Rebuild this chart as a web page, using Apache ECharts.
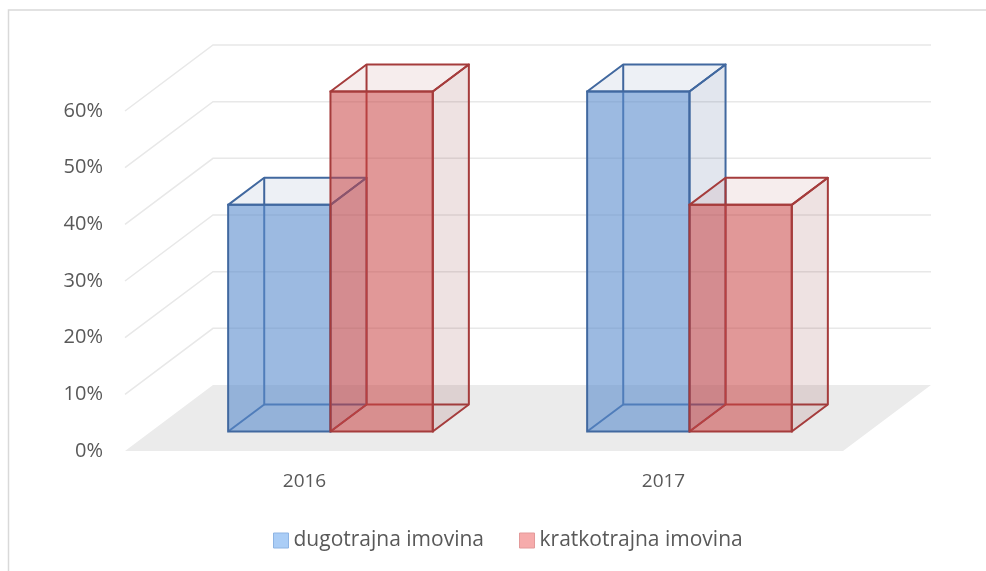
<!DOCTYPE html>
<html>
<head>
<meta charset="utf-8">
<script src="https://cdn.jsdelivr.net/npm/echarts@6/dist/echarts.min.js"></script>
<style>
  html, body { margin: 0; padding: 0; background: #fff; }
  #chart { width: 986px; height: 571px; }
</style>
</head>
<body>
<div id="chart"></div>
<script>
// data
var years = ['2016', '2017'];
var longTerm = [0.40, 0.60];   // dugotrajna imovina
var shortTerm = [0.60, 0.40];  // kratkotrajna imovina
var yTicks = [0, 0.1, 0.2, 0.3, 0.4, 0.5, 0.6];

// fake 3d: oblique depth vector of the whole floor, bars sit in the middle of it
var DEPTH_X = 88;
var DEPTH_Y = -66;
var FRONT = 0.295;
var BACK = 0.705;
var BAR_RATIO = 0.285;

function renderWalls(params, api) {
    var cs = params.coordSys;
    var v = api.value(1);
    var y = api.coord([0, v])[1];
    var left = cs.x, right = cs.x + cs.width;
    if (v === 0) {
        return {
            type: 'polygon',
            shape: { points: [[left, y], [right, y], [right + DEPTH_X, y + DEPTH_Y], [left + DEPTH_X, y + DEPTH_Y]] },
            style: { fill: '#ebebeb' }
        };
    }
    return {
        type: 'polyline',
        shape: { points: [[left, y], [left + DEPTH_X, y + DEPTH_Y], [right + DEPTH_X, y + DEPTH_Y]] },
        style: { stroke: '#e8e8e8', lineWidth: 1.5, fill: null }
    };
}

function makeBox(side, edge, frontFill, topFill, sideFill) {
    return function (params, api) {
        var base = api.coord([api.value(0), 0]);
        var peak = api.coord([api.value(0), api.value(1)]);
        var band = api.size([1, 0])[0];
        var w = band * BAR_RATIO;
        var x0 = side === 0 ? base[0] - w : base[0];
        var fx = DEPTH_X * FRONT, fy = DEPTH_Y * FRONT;
        var dx = DEPTH_X * (BACK - FRONT), dy = DEPTH_Y * (BACK - FRONT);
        var L = x0 + fx, R = x0 + w + fx, T = peak[1] + fy, B = base[1] + fy;
        var lineStyle = { stroke: edge, lineWidth: 2, fill: null, lineJoin: 'round' };
        return {
            type: 'group',
            children: [
                // edges at the back, seen through the box
                { type: 'polyline', shape: { points: [[L + dx, T + dy], [L + dx, B + dy], [R + dx, B + dy]] }, style: lineStyle },
                { type: 'line', shape: { x1: L, y1: B, x2: L + dx, y2: B + dy }, style: lineStyle },
                // right side
                { type: 'polygon', shape: { points: [[R, T], [R + dx, T + dy], [R + dx, B + dy], [R, B]] },
                  style: { fill: sideFill, stroke: edge, lineWidth: 2, lineJoin: 'round' } },
                // top
                { type: 'polygon', shape: { points: [[L, T], [R, T], [R + dx, T + dy], [L + dx, T + dy]] },
                  style: { fill: topFill, stroke: edge, lineWidth: 2, lineJoin: 'round' } },
                // front
                { type: 'rect', shape: { x: L, y: T, width: w, height: B - T },
                  style: { fill: frontFill, stroke: edge, lineWidth: 2 } }
            ]
        };
    };
}

var chart = echarts.init(document.getElementById('chart'));
chart.setOption({
    animation: false,
    textStyle: { fontFamily: 'Open Sans' },
    graphic: [{
        type: 'rect',
        shape: { x: 8.5, y: 10, width: 1000, height: 600 },
        style: { fill: null, stroke: '#d9d9d9', lineWidth: 1.5 },
        silent: true
    }],
    legend: {
        left: 268,
        top: 525,
        icon: 'rect',
        itemWidth: 15,
        itemHeight: 15,
        itemGap: 35,
        textStyle: { color: '#595959', fontSize: 21, fontFamily: 'Open Sans' },
        data: [
            { name: 'dugotrajna imovina', itemStyle: { color: '#aacdf6', borderColor: '#8eb4e3', borderWidth: 1 } },
            { name: 'kratkotrajna imovina', itemStyle: { color: '#f6abab', borderColor: '#e39a9a', borderWidth: 1 } }
        ]
    },
    grid: { left: 125, right: 143, top: 111, bottom: 120 },
    xAxis: {
        type: 'category',
        data: years,
        axisLine: { show: false },
        axisTick: { show: false },
        axisLabel: { color: '#595959', fontSize: 19, margin: 21 }
    },
    yAxis: {
        type: 'value',
        min: 0,
        max: 0.6,
        interval: 0.1,
        axisLine: { show: false },
        axisTick: { show: false },
        splitLine: { show: false },
        axisLabel: {
            color: '#595959',
            fontSize: 20,
            margin: 22,
            formatter: function (v) { return Math.round(v * 100) + '%'; }
        }
    },
    series: [
        {
            type: 'custom',
            name: 'walls',
            silent: true,
            clip: false,
            z: 1,
            renderItem: renderWalls,
            data: yTicks.map(function (v) { return [0, v]; })
        },
        {
            type: 'custom',
            name: 'dugotrajna imovina',
            clip: false,
            z: 2,
            itemStyle: { color: '#aacdf6' },
            renderItem: makeBox(0, '#41689f', 'rgba(90,140,205,0.6)', 'rgba(60,90,140,0.09)', 'rgba(60,90,140,0.15)'),
            data: years.map(function (y, i) { return [i, longTerm[i]]; })
        },
        {
            type: 'custom',
            name: 'kratkotrajna imovina',
            clip: false,
            z: 3,
            itemStyle: { color: '#f6abab' },
            renderItem: makeBox(1, '#a53c3c', 'rgba(200,68,68,0.55)', 'rgba(150,60,60,0.09)', 'rgba(140,60,60,0.15)'),
            data: years.map(function (y, i) { return [i, shortTerm[i]]; })
        }
    ]
});
</script>
</body>
</html>
